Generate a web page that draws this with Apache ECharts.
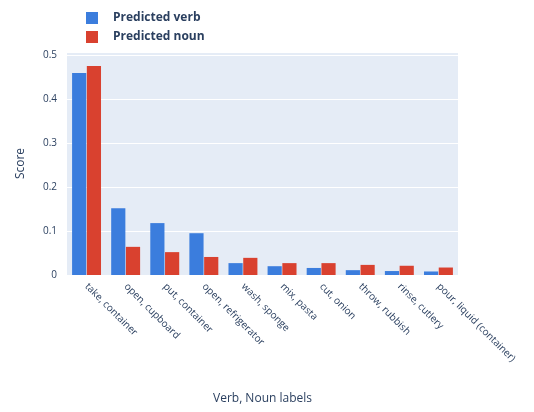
<!DOCTYPE html>
<html>
<head>
<meta charset="utf-8">
<script src="https://cdn.jsdelivr.net/npm/echarts@6/dist/echarts.min.js"></script>
<style>
  html, body { margin: 0; padding: 0; background: #fff; }
  #chart { width: 534px; height: 412px; }
</style>
</head>
<body>
<div id="chart"></div>
<script>
// Verb / noun label pairs, most frequent first
const categories = [
  'take, container',
  'open, cupboard',
  'put, container',
  'open, refrigerator',
  'wash, sponge',
  'mix, pasta',
  'cut, onion',
  'throw, rubbish',
  'rinse, cutlery',
  'pour, liquid (container)'
];
const verbScores = [0.459, 0.152, 0.118, 0.095, 0.027, 0.020, 0.016, 0.011, 0.009, 0.008];
const nounScores = [0.475, 0.064, 0.052, 0.041, 0.039, 0.027, 0.027, 0.023, 0.021, 0.017];
const yTicks = [0, 0.1, 0.2, 0.3, 0.4, 0.5];

const textColor = '#2a3f5f';
const chart = echarts.init(document.getElementById('chart'));
chart.setOption({
  animation: false,
  textStyle: { fontFamily: 'Open Sans, Noto Sans, sans-serif' },
  legend: {
    orient: 'vertical',
    left: 81,
    top: 7,
    itemWidth: 12,
    itemHeight: 12,
    itemGap: 7,
    icon: 'rect',
    textStyle: { color: textColor, fontSize: 12, fontWeight: 'bold', padding: [0, 0, 0, 10] },
    data: ['Predicted verb', 'Predicted noun']
  },
  grid: {
    left: 67, right: 76, top: 52, bottom: 137,
    show: true, backgroundColor: '#E5ECF6', borderWidth: 0
  },
  xAxis: {
    type: 'category',
    data: categories,
    name: 'Verb, Noun labels',
    nameLocation: 'middle',
    nameGap: 118,
    nameTextStyle: { color: textColor, fontSize: 12 },
    axisLine: { show: false },
    axisTick: { show: false },
    axisLabel: { rotate: -45, color: textColor, fontSize: 10, margin: 10, interval: 0 }
  },
  yAxis: {
    type: 'value',
    min: 0,
    max: 0.507,
    interval: 0.1,
    name: 'Score',
    nameLocation: 'middle',
    nameRotate: 90,
    nameGap: 40,
    nameTextStyle: { color: textColor, fontSize: 12 },
    axisLine: { show: false },
    axisTick: { show: false },
    splitLine: { lineStyle: { color: '#ffffff', width: 1 } },
    axisLabel: {
      color: textColor, fontSize: 10, margin: 10,
      formatter: v => {
        const t = yTicks.find(k => Math.abs(k - v) < 1e-6);
        return t === undefined ? '' : String(t);
      }
    }
  },
  series: [
    {
      name: 'Predicted verb', type: 'bar', data: verbScores,
      itemStyle: { color: '#3b7ddd' },
      barGap: '4%', barCategoryGap: '26%'
    },
    {
      name: 'Predicted noun', type: 'bar', data: nounScores,
      itemStyle: { color: '#d9412f' },
      barGap: '4%', barCategoryGap: '26%'
    }
  ]
});
</script>
</body>
</html>
